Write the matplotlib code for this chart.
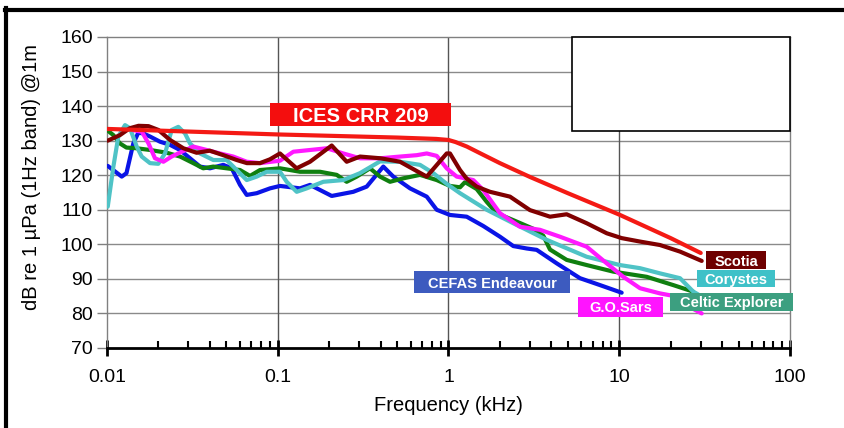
import matplotlib
matplotlib.use("Agg")
import matplotlib.pyplot as plt
from matplotlib.patches import Rectangle
from matplotlib.lines import Line2D

plt.rcParams['font.family'] = ['Liberation Sans', 'DejaVu Sans']

# ---------------- data (frequency in kHz, level in dB) ----------------
ices_f = [0.01, 0.1, 0.5, 0.85, 1.0, 1.1, 1.28, 1.54, 2.0, 3.0, 5.0, 10.0, 20.0, 30.0]
ices_db = [133.4, 131.8, 130.9, 130.5, 130.2, 129.6, 128.3, 126.3, 123.5, 119.5, 114.8,
           108.6, 101.8, 97.5]

scotia_f = [0.0101, 0.0119, 0.0136, 0.0153, 0.0175, 0.020, 0.0234, 0.028, 0.0335,
            0.040, 0.048, 0.0575, 0.066, 0.0787, 0.090, 0.103, 0.129, 0.1545, 0.207,
            0.2534, 0.3032, 0.40, 0.52, 0.7457, 0.9761, 1.02, 1.168, 1.278, 1.463,
            1.75, 2.292, 3.0, 3.93, 4.92, 6.45, 8.45, 10.33, 13.23, 17.32, 22.69, 30.4]
scotia_db = [130.0, 131.6, 133.6, 134.3, 134.2, 133.1, 130.2, 127.8, 126.5,
             127.1, 125.8, 124.4, 123.5, 123.5, 124.6, 126.3, 122.0, 123.9, 128.6,
             123.9, 125.4, 124.9, 123.9, 119.6, 126.3, 126.3, 121.5, 119.0, 116.7,
             115.2, 113.8, 109.9, 108.0, 108.7, 106.1, 103.2, 101.8, 100.8, 99.8, 97.9, 95.2]

corystes_f = [0.0101, 0.0109, 0.01165, 0.01275, 0.01364, 0.01493, 0.01597, 0.01786,
              0.01997, 0.02186, 0.02393, 0.02616, 0.02863, 0.03063, 0.03505, 0.04194,
              0.05024, 0.0575, 0.0658, 0.0753, 0.0862, 0.1031, 0.1128, 0.1291, 0.1478,
              0.1849, 0.2421, 0.3032, 0.397, 0.52, 0.6811, 0.8149, 0.9761, 1.168,
              1.674, 2.396, 3.76, 6.45, 10.1, 13.23, 17.32, 22.69, 27.15, 29.0]
corystes_db = [110.9, 122.5, 131.2, 134.5, 133.6, 128.3, 125.4, 123.5,
               123.3, 126.3, 133.1, 134.0, 132.1, 129.2, 126.3, 124.4,
               124.4, 121.5, 118.6, 119.6, 121.0, 121.0, 118.1, 115.2, 116.2,
               118.1, 118.6, 120.6, 124.0, 123.9, 123.0, 120.6, 117.5, 114.8,
               110.0, 106.1, 101.3, 96.4, 94.0, 93.1, 91.6, 90.2, 86.3, 85.5]

celtic_f = [0.0101, 0.0109, 0.0119, 0.0130, 0.0149, 0.0179, 0.0224, 0.0268, 0.032,
            0.0366, 0.0419, 0.0502, 0.0601, 0.0688, 0.0787, 0.1031, 0.135, 0.1768,
            0.2215, 0.2534, 0.29, 0.347, 0.397, 0.4545, 0.5437, 0.6811, 0.8532, 1.02,
            1.168, 1.249, 1.463, 1.674, 1.916, 2.396, 3.138, 3.59, 3.93, 4.92, 6.45,
            9.229, 14.48, 20.73, 27.15]
celtic_db = [132.9, 131.6, 129.2, 128.0, 127.8, 127.3, 126.5, 125.4, 123.5,
             122.0, 122.5, 122.0, 121.5, 119.8, 121.5, 122.0, 121.0, 121.0,
             120.1, 118.1, 119.6, 122.0, 119.6, 118.1, 119.1, 120.1, 118.6, 116.9,
             116.5, 118.0, 116.0, 112.3, 109.0, 107.0, 104.5, 102.5, 98.5, 95.5, 94.0,
             92.1, 90.6, 88.2, 86.3]

gosars_f = [0.0143, 0.0160, 0.0175, 0.0191, 0.0214, 0.0239, 0.0274, 0.032, 0.0384,
            0.0459, 0.0549, 0.0658, 0.0787, 0.1031, 0.1234, 0.1545, 0.1936, 0.2421,
            0.3032, 0.397, 0.52, 0.6514, 0.7457, 0.8532, 0.9761, 1.117, 1.397, 1.599,
            2.003, 2.622, 3.435, 4.498, 6.449, 8.445, 10.56, 13.23, 17.32, 21.7, 27.15, 30.4]
gosars_db = [133.0, 132.6, 129.2, 124.9, 123.9, 125.4, 126.8, 128.3, 127.3,
             126.3, 125.4, 123.9, 123.5, 124.2, 126.8, 127.3, 127.8, 126.3,
             124.9, 124.9, 125.4, 125.8, 126.3, 125.6, 122.0, 119.6, 118.6, 115.7,
             109.0, 105.1, 104.2, 102.2, 99.3, 94.5, 90.6, 87.3, 85.8, 84.9, 81.3, 80.0]

cefas_f = [0.0101, 0.0122, 0.0130, 0.01426, 0.01525, 0.01632, 0.01786, 0.02044,
           0.02339, 0.02676, 0.03063, 0.03505, 0.04011, 0.04799, 0.05376, 0.06012,
           0.0658, 0.0753, 0.09009, 0.1031, 0.135, 0.1545, 0.207, 0.277, 0.3318,
           0.4151, 0.4751, 0.5952, 0.7457, 0.8532, 1.02, 1.278, 1.599, 2.003, 2.396,
           2.871, 3.285, 4.302, 5.89, 7.716, 10.33]
cefas_db = [122.7, 119.6, 120.6, 129.2, 132.3, 132.1, 131.2, 129.7,
            128.8, 127.3, 124.9, 122.5, 122.0, 123.0, 122.0, 117.2,
            114.3, 114.8, 116.2, 116.9, 116.2, 117.2, 114.0, 115.2, 116.7,
            122.5, 119.6, 116.2, 113.8, 110.0, 108.5, 108.0, 105.3, 102.2, 99.5,
            98.8, 98.4, 94.5, 90.2, 88.2, 86.0]

x_ticks = [0.01, 0.1, 1, 10, 100]
x_ticklabels = ['0.01', '0.1', '1', '10', '100']
y_ticks = [70, 80, 90, 100, 110, 120, 130, 140, 150, 160]

# ---------------- figure ----------------
W, H = 845, 428
fig = plt.figure(figsize=(W / 100, H / 100), dpi=100)
fig.patch.set_facecolor('white')


def fx(px):
    return px / W


def fy(py):
    return 1 - py / H


ax = fig.add_axes([fx(107), fy(348), fx(790) - fx(107), fy(37) - fy(348)])
ax.set_xscale('log')
ax.set_xlim(0.01, 100)
ax.set_ylim(70, 160)

# grid
for yv in y_ticks[1:-1]:
    ax.axhline(yv, color='#8a8a8a', lw=1.0, zorder=1)
for xv in [0.1, 1, 10]:
    ax.axvline(xv, color='#555555', lw=1.0, zorder=1)

lw = 3.0
kw = dict(lw=lw, solid_capstyle='round', solid_joinstyle='round')
ax.plot(cefas_f, cefas_db, color='#0a14e6', zorder=3, **kw)
ax.plot(celtic_f, celtic_db, color='#0f7f0f', zorder=3, **kw)
ax.plot(corystes_f, corystes_db, color='#4fc3c6', zorder=3, **kw)
ax.plot(gosars_f, gosars_db, color='#ff19ff', zorder=3, **kw)
ax.plot(scotia_f, scotia_db, color='#800000', zorder=4, **kw)
ax.plot(ices_f, ices_db, color='#f41a14', zorder=5, **kw)

# spines
for s in ['top', 'right', 'left']:
    ax.spines[s].set_color('#808080')
    ax.spines[s].set_linewidth(1.0)
ax.spines['bottom'].set_color('black')
ax.spines['bottom'].set_linewidth(2.0)

ax.set_xticks(x_ticks)
ax.set_xticklabels(x_ticklabels)
ax.set_yticks(y_ticks)
ax.tick_params(axis='x', which='major', direction='inout', length=11, width=2.0,
               color='black', labelsize=14, pad=9.5)
ax.tick_params(axis='x', which='minor', direction='in', length=5, width=1.5,
               color='black')
ax.tick_params(axis='y', which='major', direction='out', length=7, width=1.0,
               color='#808080', labelsize=14, pad=3)
ax.set_xlabel('Frequency (kHz)', fontsize=14.5, labelpad=7)
ax.set_ylabel('dB re 1 \u00b5Pa (1Hz band) @1m', fontsize=14.5)
ax.yaxis.set_label_coords(-0.097, 0.55)

# white box top right
fig.patches.append(Rectangle((fx(572), fy(131)), fx(790) - fx(572), fy(37) - fy(131),
                             transform=fig.transFigure, facecolor='white',
                             edgecolor='black', lw=1.2, zorder=10))


def label(x0, x1, y0, y1, text, color, size):
    fig.patches.append(Rectangle((fx(x0), fy(y1)), fx(x1) - fx(x0), fy(y0) - fy(y1),
                                 transform=fig.transFigure, facecolor=color,
                                 edgecolor='none', zorder=11))
    fig.text(fx((x0 + x1) / 2), fy((y0 + y1) / 2), text, color='white',
             fontsize=size, fontweight='bold', ha='center', va='center_baseline',
             zorder=12)


label(270, 451, 103, 126, 'ICES CRR 209', '#f40e0e', 14.5)
label(706, 766, 251, 269, 'Scotia', '#6e0000', 10.5)
label(697, 775, 270, 287, 'Corystes', '#3fc1c8', 10.5)
label(670, 793, 293, 311, 'Celtic Explorer', '#3c9f80', 10.5)
label(578, 663, 297, 317, 'G.O.Sars', '#ff14ff', 10.5)
label(414, 570, 271, 293, 'CEFAS Endeavour', '#3d5bbf', 10.5)

# outer frame lines (top and left)
fig.lines.append(Line2D([fx(5), fx(845)], [fy(9.5), fy(9.5)], transform=fig.transFigure,
                        color='black', lw=3.0))
fig.lines.append(Line2D([fx(6.5), fx(6.5)], [fy(8), fy(428)], transform=fig.transFigure,
                        color='black', lw=3.0))

fig.savefig('out.png', dpi=100)
